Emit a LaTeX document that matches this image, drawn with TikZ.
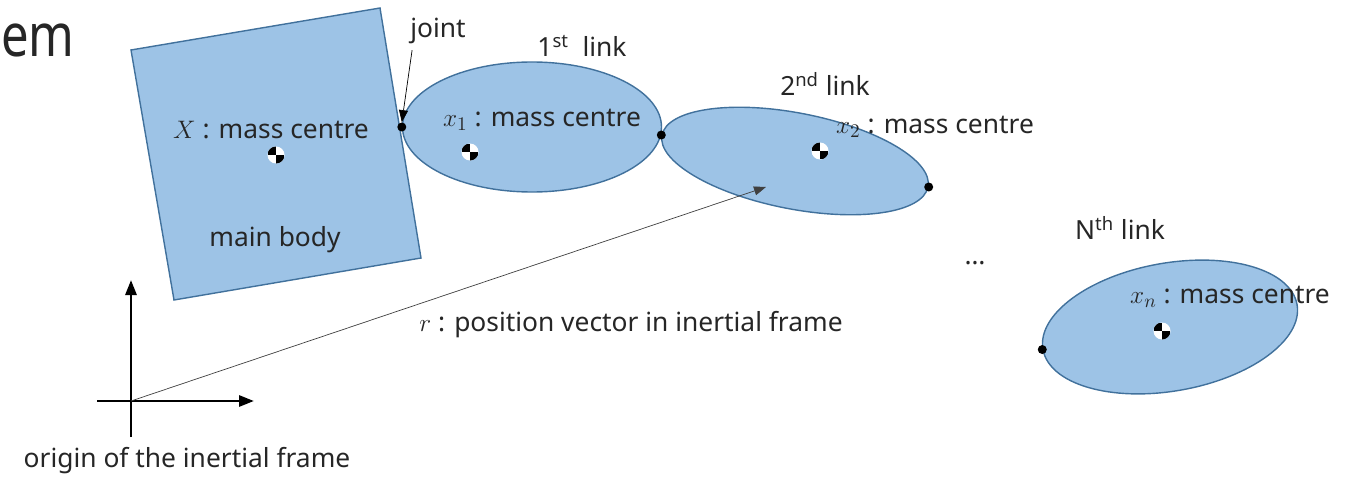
\documentclass[tikz,border=0pt]{standalone}
\usepackage{fontspec}
\setmainfont{Noto Sans}
\usetikzlibrary{arrows.meta,calc,shapes.geometric,positioning}
\definecolor{bodyfill}{HTML}{9DC3E6}
\definecolor{bodyline}{HTML}{41719C}
\definecolor{txt}{HTML}{262626}

\begin{document}
\begin{tikzpicture}[font=\fontsize{15}{18}\selectfont, text=txt, linkbody/.style={ellipse,draw=bodyline,fill=bodyfill,line width=0.8pt,inner sep=0pt},solidnode/.style={circle,fill=black,inner sep=0pt,minimum size=0.18cm},cmark/.style={circle,fill=white,inner sep=0pt,minimum size=0.34cm,path picture={\fill[black] (path picture bounding box.center) rectangle (path picture bounding box.north west);\fill[black] (path picture bounding box.center) rectangle (path picture bounding box.south east);}},arrowstyle/.style={-{Triangle[length=0.24cm,width=0.18cm]},thin},axisstyle/.style={-{Triangle[length=0.3cm,width=0.22cm]},line width=1.6pt}]

 \useasboundingbox (0,0) rectangle (27,9.52);

 \coordinate (a) at (2.62,8.52);
 \coordinate (b) at (7.60,9.36);
 \coordinate (c) at (8.42,4.36);
 \coordinate (d) at (3.48,3.52);

    \draw[draw=bodyline,fill=bodyfill,line width=0.8pt] (a) -- (b) -- (c) -- (d) -- cycle;

 % links
 \node (link1) [linkbody,minimum width=5.18cm,minimum height=2.6cm] at (10.64,6.98) {};
 \node (link2) [linkbody,minimum width=5.42cm,minimum height=1.92cm,rotate=-11] at (15.90,6.30) {};
 \node (linkn) [linkbody,minimum width=5.16cm,minimum height=2.56cm,rotate=10] at (23.40,2.98) {};

 \node (j0) [solidnode] at (link1.west) {};
 \node (j1) [solidnode] at (link2.west) {};
 \node (j2) [solidnode] at (link2.east) {};
 \node (jn) [solidnode] at (linkn.west) {};

 \node (cm0) [cmark] at (5.52,6.42) {};
 \node (cm1) [cmark] at (9.40,6.48) {};
 \node (cm2) [cmark] at (16.40,6.50) {};
 \node (cmn) [cmark] at (23.24,2.90) {};

	\node (heading) [anchor=base west,inner sep=0pt,font=\fontsize{34}{40}\selectfont] at (0.02,8.38) {\scalebox{0.82}[1]{em}};
	\node (lblX) at (5.42,6.92) {$X$ : mass centre};
	\node (lblbody) at (5.50,4.72) {main body};
	\node (lbljoint) at (8.76,8.90) {joint};
	\node (lbl1) at (11.64,8.60) {1\textsuperscript{st}\ \ link};
	\node (lblx1) at (10.84,7.12) {$x_1$ : mass centre};
	\node (lbl2) at (16.50,7.84) {2\textsuperscript{nd} link};
	\node (lblx2) at (18.70,6.98) {$x_2$ : mass centre};
	\node (dots) at (19.50,4.26) {\dots};
	\node (lbln) at (22.40,4.96) {N\textsuperscript{th} link};
	\node (lblxn) at (24.60,3.58) {$x_n$ : mass centre};
	\node (lblr) at (12.62,3.02) {$r$ : position vector in inertial frame};
	\node (lblorg) at (3.74,0.30) {origin of the inertial frame};

 % inertial frame
 \coordinate (o) at (2.62,1.50);
 \coordinate (xbeg) at (1.94,1.50);
 \coordinate (xend) at (5.08,1.50);
 \coordinate (ybeg) at (2.62,0.78);
 \coordinate (yend) at (2.62,3.92);
 \coordinate (rtip) at (15.32,5.78);
  \draw [axisstyle](xbeg)--(xend);
  \draw [axisstyle](ybeg)--(yend);
  \draw [arrowstyle,draw=black!75](o)--(rtip);
  \draw [arrowstyle]([xshift=0.16cm]lbljoint.south west)--(j0.north);
\end{tikzpicture}
\end{document}
